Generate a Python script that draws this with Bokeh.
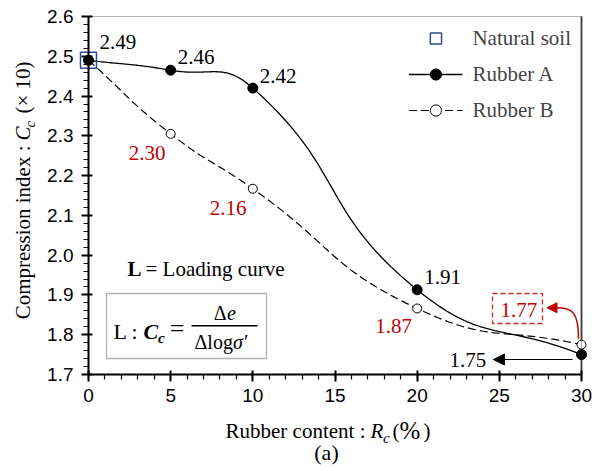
import numpy as np
from bokeh.plotting import figure
from bokeh.models import (Range1d, FixedTicker, NumeralTickFormatter, Label,
                          BoxAnnotation, Arrow, NormalHead, Legend, LegendItem,
                          ColumnDataSource)
from bokeh.embed import file_html
from bokeh.resources import INLINE
from bokeh.core.properties import value

# ---------------- data ----------------
rubber_content = [0, 5, 10, 20, 30]
cc_rubber_a = [2.49, 2.465, 2.42, 1.913, 1.75]
cc_rubber_b = [2.49, 2.305, 2.167, 1.866, 1.775]
natural_x = [0]
natural_cc = [2.49]
labels_a = ["2.49", "2.46", "2.42", "1.91", "1.75"]
labels_b = ["2.30", "2.16", "1.87", "1.77"]      # Rubber B at 5, 10, 20, 30 %
x_ticks = [0, 5, 10, 15, 20, 25, 30]
y_ticks = [1.7, 1.8, 1.9, 2.0, 2.1, 2.2, 2.3, 2.4, 2.5, 2.6]

SERIF = "Liberation Serif"
SANS = "Liberation Sans"
RED = "#C00000"
BLUE = "#2F4C8F"

# ---------------- layout geometry (pixels) ----------------
W, H = 595, 471
FL, FR, FT, FB = 88, 581, 16, 374          # plot area edges
X0, X1 = x_ticks[0], x_ticks[-1]
Y0, Y1 = y_ticks[0], y_ticks[-1]
SX = (FR - FL) / (X1 - X0)                 # px per x unit
SY = (FB - FT) / (Y1 - Y0)                 # px per y unit
BASE = 0.3                                 # baseline correction (fraction of font size)


def excel_smooth(xs, ys, n=50, f=0.5):
    """Smoothed line like a spreadsheet 'smooth line': cubic Bezier per segment,
    tangents weighted by segment lengths (computed in screen proportions)."""
    P = np.column_stack([np.asarray(xs, float) * SX, np.asarray(ys, float) * SY])
    m = len(P)
    t = np.linspace(0, 1, n)[:, None]
    out = []
    for i in range(m - 1):
        p0 = P[max(i - 1, 0)]
        p1 = P[i]
        p2 = P[i + 1]
        p3 = P[min(i + 2, m - 1)]
        d01 = np.hypot(*(p1 - p0))
        d12 = np.hypot(*(p2 - p1))
        d23 = np.hypot(*(p3 - p2))
        c1 = p1 + (p2 - p0) * f * d12 / (d01 + d12)
        c2 = p2 - (p3 - p1) * f * d12 / (d12 + d23)
        seg = (1 - t) ** 3 * p1 + 3 * (1 - t) ** 2 * t * c1 + 3 * (1 - t) * t ** 2 * c2 + t ** 3 * p2
        out.append(seg)
    pts = np.vstack(out)
    return (pts[:, 0] / SX).tolist(), (pts[:, 1] / SY).tolist()


p = figure(width=W, height=H,
           x_range=Range1d(X0 - FL / SX, X1 + (W - FR) / SX),
           y_range=Range1d(Y0 - (H - FB) / SY, Y1 + FT / SY),
           output_backend="svg", toolbar_location=None,
           min_border=0, min_border_left=0, min_border_right=0,
           min_border_top=0, min_border_bottom=0)
p.grid.visible = False
p.outline_line_color = None
p.background_fill_color = "white"
p.border_fill_color = "white"

p.xaxis.fixed_location = Y0
p.yaxis.fixed_location = X0
p.xaxis.bounds = (X0, X1)
p.yaxis.bounds = (Y0, Y1)
p.xaxis.ticker = FixedTicker(ticks=x_ticks, minor_ticks=list(range(X0, X1 + 1)))
p.yaxis.ticker = FixedTicker(ticks=y_ticks,
                             minor_ticks=[round(Y0 + 0.02 * k, 2) for k in range(46)])
p.yaxis.formatter = NumeralTickFormatter(format="0.0")
for ax in (p.xaxis, p.yaxis):
    ax.axis_line_width = 2
    ax.axis_line_color = "black"
    ax.major_tick_line_width = 2
    ax.minor_tick_line_width = 1.2
    ax.major_tick_out = 7
    ax.major_tick_in = 4
    ax.minor_tick_out = 5
    ax.minor_tick_in = 0
    ax.major_label_text_font = SANS
    ax.major_label_text_font_size = "19px"
    ax.major_label_text_color = "black"
p.xaxis.major_label_standoff = 7
p.yaxis.major_label_standoff = 8

# plot-area frame: black top, grey right
p.add_layout(BoxAnnotation(left=X0, right=X1, bottom=Y0, top=Y1, fill_alpha=0,
                           line_color="black", line_width=1))
p.segment(x0=[X1], y0=[Y0], x1=[X1], y1=[Y1], line_color="#5a5a5a", line_width=2)

# ---------------- curves ----------------
ax_, ay_ = excel_smooth(rubber_content, cc_rubber_a)
bx_, by_ = excel_smooth(rubber_content, cc_rubber_b)
line_b = p.line(bx_, by_, line_color="black", line_width=1.2, line_dash="8 4")
line_a = p.line(ax_, ay_, line_color="black", line_width=1.3)
pts_b = p.scatter(rubber_content, cc_rubber_b, marker="circle", size=9,
                  fill_color="white", line_color="black", line_width=1)
pts_a = p.scatter(rubber_content, cc_rubber_a, marker="circle", size=10,
                  fill_color="black", line_color="black")
pts_n = p.scatter(natural_x, natural_cc, marker="square", size=16,
                  fill_alpha=0, line_color=BLUE, line_width=1.5)

legend = Legend(items=[LegendItem(label="Natural soil", renderers=[pts_n]),
                       LegendItem(label="Rubber A", renderers=[line_a, pts_a]),
                       LegendItem(label="Rubber B", renderers=[line_b, pts_b])],
                location="top_right", label_text_font=SERIF, label_text_font_size="21px",
                glyph_width=54, glyph_height=28, label_height=28, label_standoff=10,
                spacing=8, padding=12, margin=12,
                border_line_alpha=0, background_fill_alpha=0)
p.add_layout(legend)

# ---------------- value labels ----------------
src_a = ColumnDataSource(dict(x=rubber_content, y=cc_rubber_a, t=labels_a,
                              dx=[11, 7, 7, 7, -132], dy=[-18, -13, -12, -13, 5]))
p.text(x="x", y="y", text="t", x_offset="dx", y_offset="dy", source=src_a,
       text_font=value(SERIF), text_font_size="21px", text_color="black",
       text_align="left", text_baseline="alphabetic")
src_b = ColumnDataSource(dict(x=rubber_content[1:], y=cc_rubber_b[1:], t=labels_b,
                              dx=[-42, -43, -42, -81], dy=[19, 19, 18, -35]))
p.text(x="x", y="y", text="t", x_offset="dx", y_offset="dy", source=src_b,
       text_font=value(SERIF), text_font_size="21px", text_color=RED,
       text_align="left", text_baseline="alphabetic")

# dashed red box around the 30 % Rubber B value
p.add_layout(BoxAnnotation(left=492, right=542, bottom=H - 323, top=H - 293,
                           left_units="screen", right_units="screen",
                           bottom_units="screen", top_units="screen",
                           fill_alpha=0, line_color=RED, line_alpha=0.85,
                           line_width=1.3, line_dash="5 3"))

# arrows
p.add_layout(Arrow(end=NormalHead(size=11, fill_color="black", line_color="black"),
                   x_start=29.45, y_start=1.7377, x_end=24.64, y_end=1.7377,
                   line_color="black", line_width=1.2))
p.bezier(x0=[29.82], y0=[1.79], x1=[28.5], y1=[1.868], cx0=[29.82], cy0=[1.856],
         cx1=[29.45], cy1=[1.868], line_color=RED, line_width=1.5)
p.add_layout(Arrow(end=NormalHead(size=10, fill_color=RED, line_color=RED),
                   x_start=28.6, y_start=1.868, x_end=27.9, y_end=1.868,
                   line_color=RED, line_width=1.5))


def lab(text, px, py, size=21, style="normal", align="left", angle=0.0, color="black"):
    """Label whose baseline passes through pixel (px from left, py from top)."""
    if angle == 0.0:
        x, y = px, H - (py - BASE * size)
    else:
        x, y = px - BASE * size, H - py
    return Label(x=x, y=y, x_units="screen", y_units="screen", text=text,
                 text_font=SERIF, text_font_size=f"{size}px", text_font_style=style,
                 text_align=align, text_baseline="alphabetic", angle=angle,
                 text_color=color)


# axis titles
p.add_layout(lab("Rubber content :", 365, 437, align="right"))
p.add_layout(lab("R", 370, 437, style="italic"))
p.add_layout(lab("c", 382.5, 442, size=15, style="italic"))
p.add_layout(lab("(", 392, 437))
p.add_layout(lab("%", 399, 437, size=25))
p.add_layout(lab(")", 423, 437))
p.add_layout(lab("(a)", 326, 459, size=22, align="center"))

a = np.pi / 2
p.add_layout(lab("Compression index :", 29, 145, align="right", angle=a))
p.add_layout(lab("C", 29, 140, style="italic", angle=a))
p.add_layout(lab("c", 34, 127, size=15, style="italic", angle=a))
p.add_layout(lab("(× 10)", 29, 113, angle=a))

# loading curve note + formula box
p.add_layout(lab("L", 127, 275, style="bold"))
p.add_layout(lab("= Loading curve", 145, 275))
p.add_layout(BoxAnnotation(left=106, right=266, bottom=H - 358, top=H - 293,
                           left_units="screen", right_units="screen",
                           bottom_units="screen", top_units="screen",
                           fill_alpha=0, line_color="black", line_width=1.3))
p.add_layout(lab("L :", 113, 338, size=22))
p.add_layout(lab("C", 143, 338, size=22, style="bold italic"))
p.add_layout(lab("c", 157.5, 342, size=15, style="bold italic"))
p.add_layout(lab("=", 176.5, 336, size=26, align="center"))
p.add_layout(BoxAnnotation(left=191, right=257, bottom=H - 326, top=H - 324.5,
                           left_units="screen", right_units="screen",
                           bottom_units="screen", top_units="screen",
                           fill_color="black", fill_alpha=1, line_alpha=0))
p.add_layout(lab("Δ", 226, 318, size=20, align="right"))
p.add_layout(lab("e", 226.5, 318, size=20, style="italic"))
p.add_layout(lab("Δlog", 194, 347, size=20))
p.add_layout(lab("σ′", 232.5, 347, size=20, style="italic"))

open("out.html", "w").write(file_html(p, INLINE))
